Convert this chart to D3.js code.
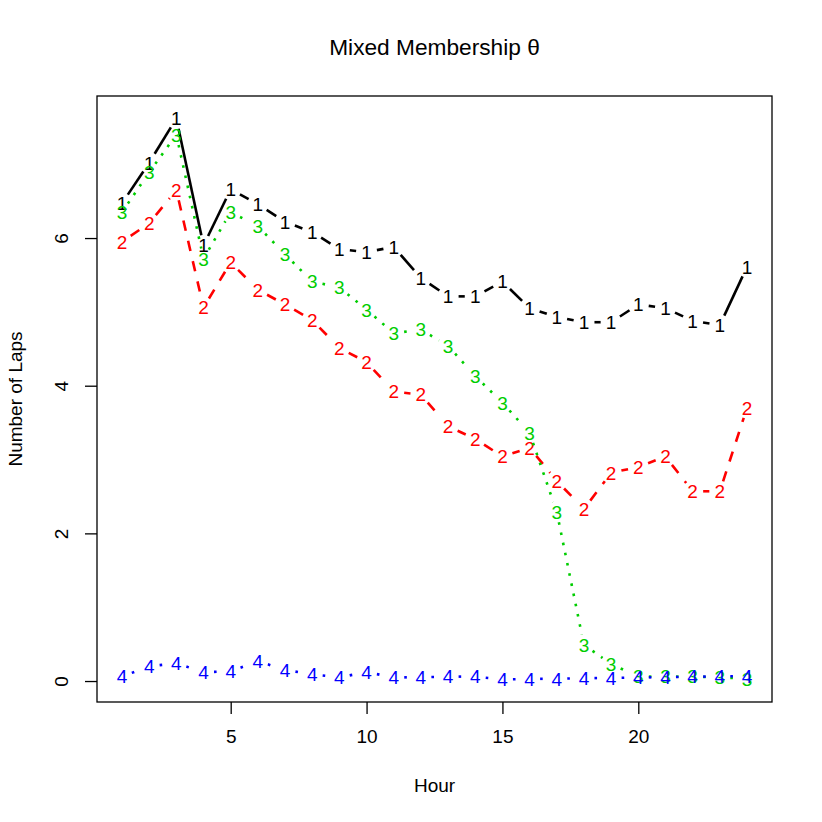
<!DOCTYPE html>
<html>
<head>
<meta charset="utf-8">
<script src="https://cdn.jsdelivr.net/npm/d3@7"></script>
<style>
  body { margin: 0; background: #fff; }
  text { font-family: "Liberation Sans", Arial, Helvetica, sans-serif; }
</style>
</head>
<body>
<div id="chart"></div>
<script>
// Hours on the x axis
const hours = [1, 2, 3, 4, 5, 6, 7, 8, 9, 10, 11, 12, 13, 14, 15, 16, 17, 18, 19, 20, 21, 22, 23, 24];

// Mixed membership components (number of laps)
const theta1 = [6.47, 7.02, 7.62, 5.90, 6.66, 6.46, 6.22, 6.08, 5.85, 5.81, 5.88, 5.46,
                5.21, 5.21, 5.41, 5.05, 4.93, 4.86, 4.86, 5.10, 5.05, 4.88, 4.82, 5.61];
const theta2 = [5.95, 6.20, 6.65, 5.06, 5.67, 5.30, 5.10, 4.89, 4.51, 4.32, 3.92, 3.88,
                3.45, 3.28, 3.04, 3.16, 2.71, 2.33, 2.82, 2.90, 3.04, 2.57, 2.57, 3.70];
const theta3 = [6.35, 6.89, 7.40, 5.72, 6.35, 6.16, 5.78, 5.41, 5.33, 5.03, 4.71, 4.76,
                4.54, 4.13, 3.77, 3.36, 2.29, 0.49, 0.23, 0.06, 0.06, 0.06, 0.05, 0.03];
const theta4 = [0.06, 0.20, 0.24, 0.12, 0.13, 0.27, 0.15, 0.09, 0.05, 0.12, 0.05, 0.05,
                0.06, 0.06, 0.02, 0.03, 0.03, 0.04, 0.04, 0.05, 0.05, 0.06, 0.06, 0.07];

const seriesLabels = ['1', '2', '3', '4'];
const seriesColors = ['#000000', '#ff0000', '#00cd00', '#0000ff'];

const xTicks = [5, 10, 15, 20];
const yTicks = [0, 2, 4, 6];

const width = 822, height = 822;
const plot = { left: 97, right: 772, top: 96, bottom: 702 };
const lw = 2.6;
const gap = 10.5;       // type="b" gap around each point
const dashes = [null, `${4 * lw},${4 * lw}`, `${lw},${3 * lw}`, `${lw},${3 * lw},${4 * lw},${3 * lw}`];

const series = [theta1, theta2, theta3, theta4];

// R style 4% padding on both axes
function padded(lo, hi) {
    const r = hi - lo;
    return [lo - 0.04 * r, hi + 0.04 * r];
}
const allVals = series.flat();

const x = d3.scaleLinear()
    .domain(padded(d3.min(hours), d3.max(hours)))
    .range([plot.left, plot.right]);

const y = d3.scaleLinear()
    .domain(padded(d3.min(allVals), d3.max(allVals)))
    .range([plot.bottom, plot.top]);

const svg = d3.select('#chart').append('svg')
    .attr('width', width)
    .attr('height', height);

svg.append('rect')
    .attr('width', width).attr('height', height)
    .attr('fill', '#fff');

// Draw each series: broken line segments + number labels
series.forEach((vals, si) => {
    const g = svg.append('g').attr('class', 'series');
    const pts = vals.map((v, i) => [x(hours[i]), y(v)]);

    for (let i = 0; i < pts.length - 1; i++) {
        const [x0, y0] = pts[i];
        const [x1, y1] = pts[i + 1];
        const d = Math.hypot(x1 - x0, y1 - y0);
        if (d <= 2 * gap) continue;
        const f = gap / d;
        g.append('line')
            .attr('x1', x0 + f * (x1 - x0))
            .attr('y1', y0 + f * (y1 - y0))
            .attr('x2', x1 - f * (x1 - x0))
            .attr('y2', y1 - f * (y1 - y0))
            .attr('stroke', seriesColors[si])
            .attr('stroke-width', lw)
            .attr('stroke-dasharray', dashes[si])
            .attr('stroke-linecap', 'butt');
    }

    g.selectAll('text')
        .data(pts)
        .enter()
        .append('text')
        .attr('x', d => d[0])
        .attr('y', d => d[1])
        .attr('dy', '0.36em')
        .attr('text-anchor', 'middle')
        .attr('font-size', '19px')
        .attr('fill', seriesColors[si])
        .text(seriesLabels[si]);
});

// Plot box
svg.append('rect')
    .attr('x', plot.left)
    .attr('y', plot.top)
    .attr('width', plot.right - plot.left)
    .attr('height', plot.bottom - plot.top)
    .attr('fill', 'none')
    .attr('stroke', '#000')
    .attr('stroke-width', 1.3);

// X axis
const xAxis = svg.append('g')
    .attr('transform', `translate(0,${plot.bottom})`)
    .call(d3.axisBottom(x).tickValues(xTicks).tickSize(12).tickPadding(16).tickSizeOuter(0));
xAxis.select('.domain').remove();
xAxis.selectAll('line').attr('stroke', '#000').attr('stroke-width', 1.3);
xAxis.selectAll('text')
    .attr('font-size', '19px')
    .attr('fill', '#000')
    .style('font-family', '"Liberation Sans", Arial, sans-serif');

// Y axis (labels parallel to axis, as in R)
const yAxis = svg.append('g')
    .attr('transform', `translate(${plot.left},0)`)
    .call(d3.axisLeft(y).tickValues(yTicks).tickSize(12).tickSizeOuter(0));
yAxis.select('.domain').remove();
yAxis.selectAll('line').attr('stroke', '#000').attr('stroke-width', 1.3);
yAxis.selectAll('text')
    .attr('x', null).attr('dy', null)
    .attr('transform', 'translate(-29,0) rotate(-90)')
    .attr('text-anchor', 'middle')
    .attr('font-size', '19px')
    .attr('fill', '#000')
    .style('font-family', '"Liberation Sans", Arial, sans-serif');

// Titles
svg.append('text')
    .attr('x', (plot.left + plot.right) / 2)
    .attr('y', 55)
    .attr('text-anchor', 'middle')
    .attr('font-size', '22.7px')
    .text('Mixed Membership θ');

svg.append('text')
    .attr('x', (plot.left + plot.right) / 2)
    .attr('y', 792)
    .attr('text-anchor', 'middle')
    .attr('font-size', '19px')
    .text('Hour');

svg.append('text')
    .attr('transform', `translate(22,${(plot.top + plot.bottom) / 2}) rotate(-90)`)
    .attr('text-anchor', 'middle')
    .attr('font-size', '19px')
    .text('Number of Laps');
</script>
</body>
</html>
